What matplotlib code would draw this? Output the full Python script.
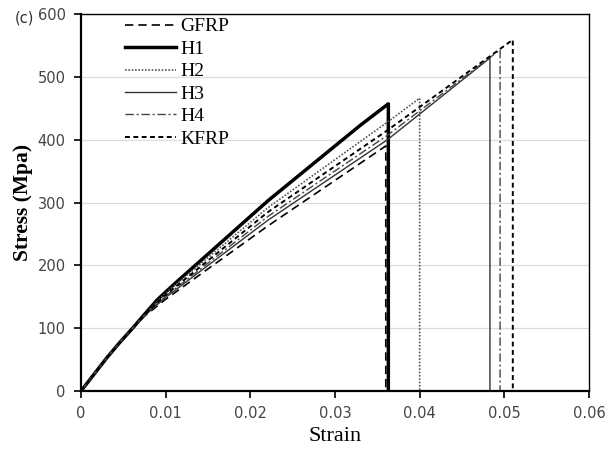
import matplotlib
matplotlib.use("Agg")
import matplotlib.pyplot as plt

# ---- data ----
gfrp_strain = [0, 0.003, 0.0045, 0.0061, 0.0075, 0.0100, 0.0221, 0.0360, 0.0360]
gfrp_stress = [0, 52, 76, 100, 119, 146, 263, 390, 0]

h1_strain = [0, 0.003, 0.0045, 0.0061, 0.0075, 0.0090, 0.0110, 0.0221, 0.0330, 0.0363, 0.0363]
h1_stress = [0, 52, 76, 100, 122, 145, 170, 303, 423, 457, 0]

h2_strain = [0, 0.003, 0.0045, 0.0061, 0.0075, 0.0100, 0.0221, 0.0362, 0.0400, 0.0400]
h2_stress = [0, 52, 76, 100, 121, 156, 292, 428, 466, 0]

h3_strain = [0, 0.003, 0.0045, 0.0061, 0.0075, 0.0100, 0.0221, 0.0362, 0.0483, 0.0483]
h3_stress = [0, 52, 76, 100, 120, 149, 272, 400, 530, 0]

h4_strain = [0, 0.003, 0.0045, 0.0061, 0.0075, 0.0100, 0.0221, 0.0362, 0.0495, 0.0495]
h4_stress = [0, 52, 76, 100, 120, 151, 278, 407, 543, 0]

kfrp_strain = [0, 0.003, 0.0045, 0.0061, 0.0075, 0.0100, 0.0221, 0.0362, 0.0510, 0.0510]
kfrp_stress = [0, 52, 76, 100, 121, 153, 285, 415, 559, 0]

x_ticks = [0, 0.01, 0.02, 0.03, 0.04, 0.05, 0.06]
x_tick_labels = ["0", "0.01", "0.02", "0.03", "0.04", "0.05", "0.06"]
y_ticks = [0, 100, 200, 300, 400, 500, 600]

fig = plt.figure(figsize=(6.05, 4.5), dpi=100)
ax = fig.add_axes([81/605, 1-391/450, (589-81)/605, (391-14)/450])

ax.plot(gfrp_strain, gfrp_stress, color="black", lw=1.2, dashes=(5, 3), label="GFRP")
ax.plot(h1_strain, h1_stress, color="black", lw=2.5, label="H1")
ax.plot(h2_strain, h2_stress, color="#555555", lw=1.2, ls=(0, (1, 1)), label="H2")
ax.plot(h3_strain, h3_stress, color="#333333", lw=1.0, label="H3")
ax.plot(h4_strain, h4_stress, color="#444444", lw=1.0, dashes=(6, 2, 1.5, 2), label="H4")
ax.plot(kfrp_strain, kfrp_stress, color="black", lw=1.4, dashes=(2.5, 1.8), label="KFRP")

ax.set_xlim(0, 0.06)
ax.set_ylim(0, 600)
ax.set_xticks(x_ticks)
ax.set_xticklabels(x_tick_labels)
ax.set_yticks(y_ticks)
ax.yaxis.grid(True, color="#dcdcdc", lw=0.9)
ax.set_axisbelow(True)

for s in ["left", "bottom"]:
    ax.spines[s].set_linewidth(1.6)
for s in ["top", "right"]:
    ax.spines[s].set_linewidth(1.0)
ax.tick_params(axis="both", direction="out", length=5, width=1.2,
               labelsize=10.5, labelcolor="#444444", pad=6)

ax.set_xlabel("Strain", family="Liberation Serif", fontsize=16, labelpad=4)
ax.set_ylabel("Stress (Mpa)", family="Liberation Serif", fontsize=15.5,
              fontweight="bold", labelpad=3)

leg = ax.legend(loc="upper left", bbox_to_anchor=(0.087, 0.99), frameon=False,
                prop={"family": "Liberation Serif", "size": 14},
                handlelength=2.6, handletextpad=0.25, labelspacing=0.25,
                borderpad=0, borderaxespad=0)

fig.text(15/605, 1-18/450, "(c)", fontsize=10.5, color="#333333", va="center")

fig.savefig("out.png", dpi=100)
